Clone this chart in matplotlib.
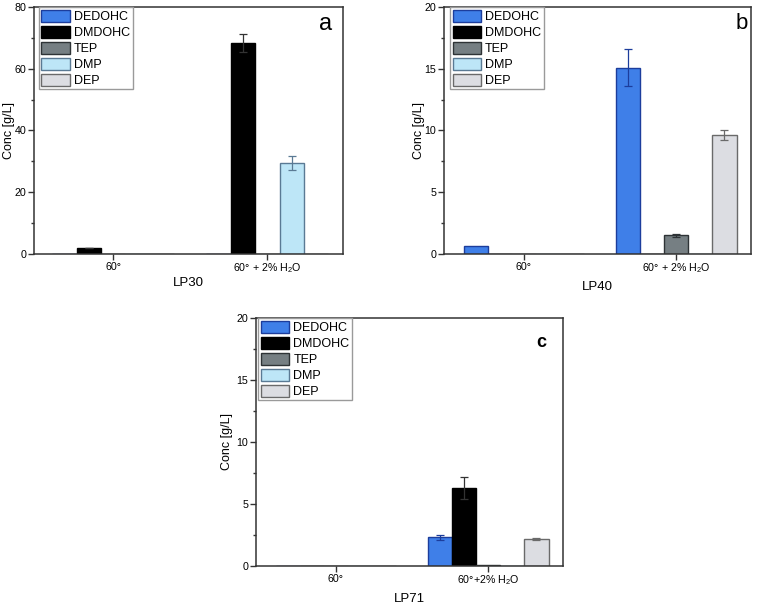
import numpy as np
import matplotlib
matplotlib.use("Agg")
import matplotlib.pyplot as plt
from matplotlib.ticker import MultipleLocator

plt.rcParams['font.family'] = ['Liberation Sans', 'DejaVu Sans']
plt.rcParams['mathtext.fontset'] = 'custom'
plt.rcParams['mathtext.rm'] = 'Liberation Sans'

# series and colours
species = ["DEDOHC", "DMDOHC", "TEP", "DMP", "DEP"]
fills = ["#3f7fe8", "#000000", "#767f83", "#bde6f7", "#dcdde2"]
edges = ["#1c3d9c", "#000000", "#2e3336", "#5a7a94", "#6a6a6a"]

# LP30 (panel a): rows = 60°, 60° + 2% H2O
lp30_vals = [[0, 2.0, 0, 0, 0], [0, 68.4, 0, 29.4, 0]]
lp30_err = [[0, 0.1, 0, 0, 0], [0, 2.9, 0, 2.2, 0]]
# LP40 (panel b)
lp40_vals = [[0.68, 0, 0, 0, 0], [15.1, 0, 1.5, 0, 9.6]]
lp40_err = [[0, 0, 0, 0, 0], [1.5, 0, 0.1, 0, 0.4]]
# LP71 (panel c)
lp71_vals = [[0, 0, 0, 0, 0], [2.3, 6.3, 0.12, 0, 2.2]]
lp71_err = [[0, 0, 0, 0, 0], [0.2, 0.9, 0, 0, 0.08]]

ticks_ab = ["60°", "60° + 2% H$_2$O"]
ticks_c = ["60°", "60°+2% H$_2$O"]

fig = plt.figure(figsize=(7.58, 6.07), dpi=100)
W, H = 758, 607


def make_ax(l, r, t, b):
    return fig.add_axes([l / W, 1 - b / H, (r - l) / W, (b - t) / H])


def panel(ax, vals, errs, ymax, ymajor, ticklabels, xlabel, letter, letter_kw,
          leg_x, ylab_x, xlab_y, xlim=(0.475, 2.49)):
    width = 0.158
    x = np.arange(1, 3)
    vals = np.array(vals)
    errs = np.array(errs)
    for i, name in enumerate(species):
        pos = x + (i - 2) * width
        ax.bar(pos, vals[:, i], width=width, color=fills[i], edgecolor=edges[i],
               linewidth=1.0, label=name, zorder=2)
        m = errs[:, i] > 0
        if m.any():
            ax.errorbar(pos[m], vals[m, i], yerr=errs[m, i], fmt='none',
                        ecolor=edges[i] if i != 1 else "#333333", elinewidth=0.9,
                        capsize=3, capthick=0.9, zorder=3)
    ax.set_xlim(*xlim)
    ax.set_ylim(0, ymax)
    ax.yaxis.set_major_locator(MultipleLocator(ymajor))
    ax.yaxis.set_minor_locator(MultipleLocator(ymajor / 2))
    ax.set_xticks(x)
    ax.set_xticklabels(ticklabels)
    ax.tick_params(axis='both', which='major', direction='out', length=4,
                   width=1.0, labelsize=7.7, color="#333333", pad=1.5)
    ax.tick_params(axis='y', which='minor', direction='out', length=2.5,
                   width=1.0, color="#333333")
    for s in ax.spines.values():
        s.set_color("#333333")
        s.set_linewidth(1.1)
    ax.set_ylabel("Conc [g/L]", fontsize=9)
    ax.yaxis.set_label_coords(ylab_x, 0.5)
    ax.set_xlabel(xlabel, fontsize=9.5)
    ax.xaxis.set_label_coords(0.5, xlab_y)
    ax.xaxis.label.set_va('center')
    ax.yaxis.label.set_va('center')
    ax.text(*letter_kw.pop("xy"), letter, transform=ax.transAxes,
            ha='center', va='center', **letter_kw)
    leg = ax.legend(loc='upper left', bbox_to_anchor=(leg_x, 1.0), borderaxespad=0,
                    fontsize=9, handlelength=2.25, handleheight=1.1,
                    labelspacing=0.22, handletextpad=0.35, borderpad=0.2,
                    fancybox=False, framealpha=1)
    leg.get_frame().set_edgecolor("#9a9a9a")
    leg.get_frame().set_linewidth(1.0)


ax_a = make_ax(34, 343, 7, 254)
panel(ax_a, lp30_vals, lp30_err, 80, 20, ticks_ab, "LP30", "a",
      dict(xy=(0.945, 0.93), fontsize=17), 0.016, -0.082, -0.117,
      xlim=(0.487, 2.49))

ax_b = make_ax(444, 751, 7, 254)
panel(ax_b, lp40_vals, lp40_err, 20, 5, ticks_ab, "LP40", "b",
      dict(xy=(0.97, 0.935), fontsize=16), 0.02, -0.08, -0.135)

ax_c = make_ax(256, 563, 318, 566)
panel(ax_c, lp71_vals, lp71_err, 20, 5, ticks_c, "LP71", "c",
      dict(xy=(0.93, 0.9), fontsize=13, fontweight='bold'), 0.008, -0.094, -0.135)

fig.savefig("out.png", dpi=100)
